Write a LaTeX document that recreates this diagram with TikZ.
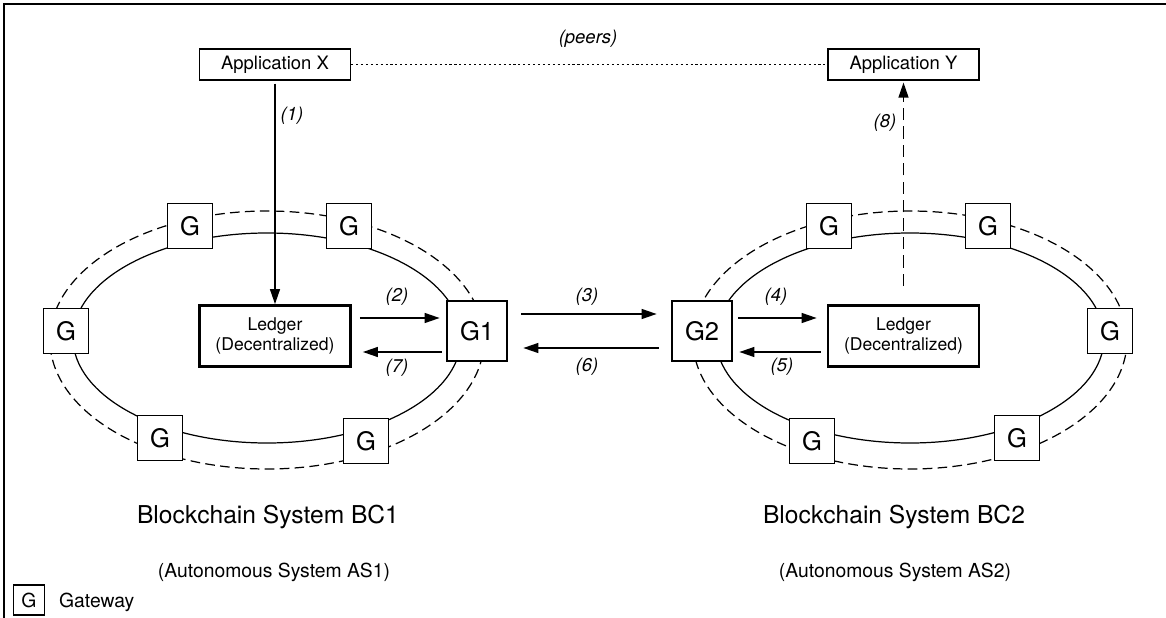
\documentclass[tikz,border=0pt]{standalone}
\usepackage{fontspec}
\setmainfont{TeX Gyre Heros}
\usetikzlibrary{arrows.meta}
\tikzset{
  gw/.style={draw,fill=white,line width=0.7pt,minimum size=0.9cm,inner sep=0pt,font=\fontsize{14.5}{16}\selectfont},
  gwmain/.style={gw,line width=1.6pt,minimum size=1.2cm},
  ledgerbox/.style={draw,fill=white,line width=1.6pt,minimum width=3.02cm,minimum height=1.22cm,inner sep=0pt,align=center,font=\fontsize{10}{11.4}\selectfont},
  appbox/.style={draw,line width=0.7pt,minimum width=3.02cm,minimum height=0.62cm,inner sep=0pt,font=\fontsize{10.5}{12}\selectfont},
  num/.style={font=\fontsize{10.5}{12}\selectfont\itshape},
  flow/.style={line width=0.7pt,-{Triangle[length=0.3cm,width=0.2cm]}},
}
\begin{document}
\begin{tikzpicture}[x=0.02cm,y=-0.02cm]
    \def\ra{194} \def\rb{105} \def\da{217} \def\db{129} % Bán trục
    \useasboundingbox (0,0) rectangle (1166,618);
    \draw[line width=0.9pt] (4,618)--(4,4)--(1166,4);
    \foreach \cx in {267,910}{
        \draw[line width=0.7pt] (\cx,338) ellipse [x radius=\ra,y radius=\rb];
        \draw[line width=0.7pt,dash pattern=on 5.5pt off 3pt] (\cx,340) ellipse [x radius=\da,y radius=\db];
    }
    % BC1
    \node[gw] (a1) at (66,331) {G};
    \node[gw] (a2) at (190,226) {G};
    \node[gw] (a3) at (349,226) {G};
    \node[gw] (a4) at (160,438) {G};
    \node[gw] (a5) at (366,441) {G};
    \node[gwmain] (g1) at (477,331) {G1};
    \node[ledgerbox] (led1) at (275,336) {Ledger\\(Decentralized)};
    % BC2
    \node[gw] (b1) at (1110,331) {G};
    \node[gw] (b2) at (829,226) {G};
    \node[gw] (b3) at (988,226) {G};
    \node[gw] (b4) at (812,441) {G};
    \node[gw] (b5) at (1017,438) {G};
    \node[gwmain] (g2) at (702,331) {G2};
    \node[ledgerbox] (led2) at (903.5,336) {Ledger\\(Decentralized)};
    % Ứng dụng
    \node[appbox] (appX) at (275,64.5) {Application X};
    \node[appbox] (appY) at (903.5,64.5) {Application Y};
    \draw[line width=0.7pt,dash pattern=on 1.2pt off 1.6pt] (appX)--(appY);
    \node[num] at (588,39) {(peers)};
    \coordinate (up) at (0,318); \coordinate (dn) at (0,352);
    \coordinate (mup) at (0,314); \coordinate (mdn) at (0,348);
    \draw[flow,shorten <=0.06cm] (appX.south)--(led1.north);
    \draw[flow,shorten <=0.16cm,shorten >=0.12cm] (led1.east |- up)--(g1.west |- up);
    \draw[flow,shorten <=0.08cm,shorten >=0.22cm] (g1.west |- dn)--(led1.east |- dn);
    \draw[flow,shorten <=0.26cm,shorten >=0.28cm] (g1.east |- mup)--(g2.west |- mup);
    \draw[flow,shorten <=0.24cm,shorten >=0.3cm] (g2.west |- mdn)--(g1.east |- mdn);
    \draw[flow,shorten <=0.1cm,shorten >=0.2cm] (g2.east |- up)--(led2.west |- up);
    \draw[flow,shorten <=0.12cm,shorten >=0.12cm] (led2.west |- dn)--(g2.east |- dn);
    \draw[flow,dash pattern=on 7pt off 3.5pt,shorten <=0.36cm,shorten >=0.04cm] (led2.north)--(appY.south);
    \node[num] at (292,116) {(1)};
    \node[num] at (397,297) {(2)};
    \node[num] at (587,297) {(3)};
    \node[num] at (776,297) {(4)};
    \node[num] at (782,367) {(5)};
    \node[num] at (587,367) {(6)};
    \node[num] at (397,368) {(7)};
    \node[num] at (885,123) {(8)};
    \node[anchor=base,font=\fontsize{14}{16}\selectfont] (bc1) at (268,523) {Blockchain System BC1};
    \node[anchor=base,font=\fontsize{14}{16}\selectfont] (bc2) at (894,523) {Blockchain System BC2};
    \node[anchor=base,font=\fontsize{11}{13}\selectfont] (as1) at (274,577) {(Autonomous System AS1)};
    \node[anchor=base,font=\fontsize{11}{13}\selectfont] (as2) at (895,577) {(Autonomous System AS2)};
    \node[draw,line width=0.7pt,minimum width=0.62cm,minimum height=0.6cm,inner sep=0pt,font=\fontsize{11}{13}\selectfont] (key) at (29,600) {G};
    \node[anchor=base west,font=\fontsize{11}{13}\selectfont] (keytext) at (53,607) {Gateway};
\end{tikzpicture}
\end{document}
